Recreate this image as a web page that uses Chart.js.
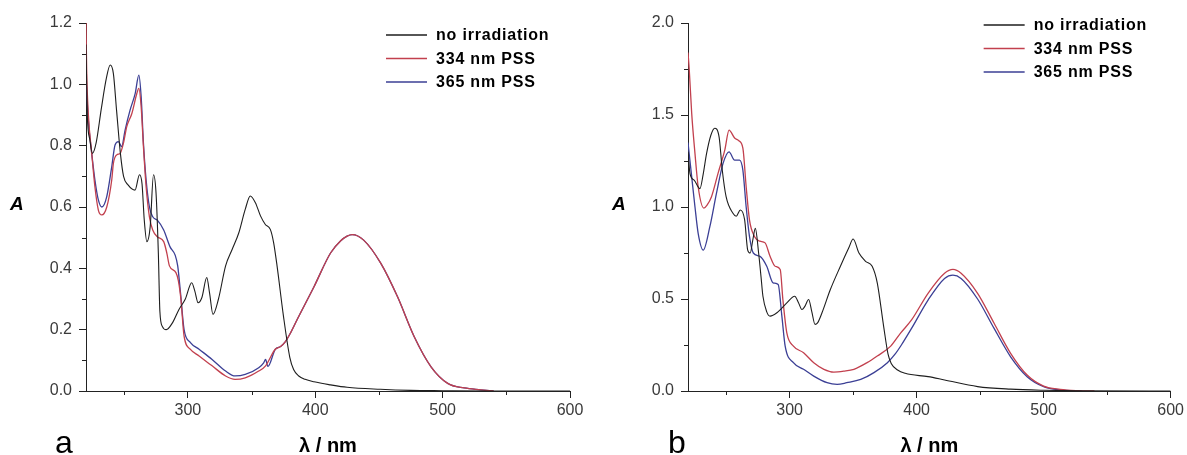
<!DOCTYPE html>
<html>
<head>
<meta charset="utf-8">
<script src="https://cdn.jsdelivr.net/npm/chart.js@4.4.1/dist/chart.umd.min.js"></script>
<style>
  html, body { margin: 0; padding: 0; background: #fff; }
  body { width: 1187px; height: 455px; position: relative; overflow: hidden; }
  canvas { position: absolute; top: 0; }
  #chartA { left: 0; }
  #chartB { left: 594px; }
</style>
</head>
<body>
<canvas id="chartA" width="594" height="455"></canvas>
<canvas id="chartB" width="593" height="455"></canvas>
<script>
// UV-vis spectra, values: [wavelength nm, absorbance]
const xTicks = [300, 400, 500, 600];
const xMinor = [250, 350, 450, 550];
const aYTicks = [0, 0.2, 0.4, 0.6, 0.8, 1.0, 1.2];
const aYMinor = [0.1, 0.3, 0.5, 0.7, 0.9, 1.1];
const bYTicks = [0, 0.5, 1.0, 1.5, 2.0];
const bYMinor = [0.25, 0.75, 1.25, 1.75];
const seriesNames = ['no irradiation', '334 nm PSS', '365 nm PSS'];

// panel a
const aNoIrr = [[220,1.13],[221,0.90],[223,0.82],[225,0.775],[228,0.81],[232,0.92],[236,1.02],[239,1.063],[241.5,1.035],[244,0.915],[247,0.775],[249.5,0.70],[253,0.672],[258.5,0.655],[262,0.705],[264,0.675],[265.7,0.56],[267.8,0.487],[270.4,0.536],[273,0.705],[275,0.645],[276.8,0.45],[278,0.26],[280,0.21],[283,0.20],[288,0.223],[293,0.266],[298,0.30],[303,0.353],[305.5,0.325],[308,0.288],[311,0.305],[314.8,0.37],[317,0.32],[319.7,0.25],[324,0.30],[329.6,0.408],[334.8,0.462],[340,0.516],[345,0.592],[349,0.636],[353,0.614],[357,0.571],[360.8,0.543],[364.7,0.527],[367.3,0.484],[370,0.408],[375,0.245],[380,0.11],[383,0.07],[387,0.049],[392,0.038],[399,0.030],[412,0.02],[425,0.012],[451,0.0055],[475,0.002],[500,0.001],[540,0],[600,0]];
const a334 = [[220,1.20],[220.5,1.05],[221.8,0.905],[224.5,0.775],[227,0.666],[229.7,0.59],[232.4,0.574],[236.3,0.60],[240.2,0.688],[241.5,0.742],[244.2,0.77],[246.8,0.775],[249.4,0.808],[252,0.862],[256,0.905],[259.9,0.97],[261.5,0.987],[263.3,0.927],[265.1,0.797],[267.2,0.666],[269.8,0.568],[272.4,0.525],[276,0.503],[281,0.487],[283.5,0.449],[285.5,0.408],[290.6,0.386],[292.5,0.36],[294.5,0.30],[297,0.179],[302,0.136],[308.8,0.114],[319,0.082],[329.6,0.049],[337,0.038],[345,0.043],[355.6,0.065],[361,0.082],[368.6,0.136],[372.8,0.145],[376.4,0.16],[380,0.185],[386,0.235],[399,0.34],[412,0.45],[420,0.49],[425,0.505],[429,0.51],[438,0.492],[451.5,0.416],[464.6,0.307],[477.7,0.177],[490.9,0.079],[504,0.025],[517,0.010],[530,0.004],[540,0]];
const a365 = [[220,1.02],[221.8,0.884],[224.5,0.775],[227,0.688],[229.7,0.623],[232.4,0.60],[236.3,0.634],[240.2,0.731],[242.8,0.802],[245.4,0.813],[248,0.797],[250.7,0.851],[254.6,0.916],[258.6,0.97],[261.5,1.03],[263.3,0.96],[265.1,0.808],[267.2,0.688],[269.8,0.60],[272.4,0.568],[276,0.557],[281,0.525],[286,0.47],[290,0.443],[292,0.408],[294.2,0.32],[297,0.20],[302,0.158],[308.8,0.136],[319,0.103],[329.6,0.065],[337,0.049],[345,0.054],[355.6,0.076],[359.5,0.092],[361,0.103],[362.8,0.08],[368.6,0.136],[372.8,0.145],[376.4,0.16],[380,0.185],[386,0.235],[399,0.34],[412,0.45],[420,0.49],[425,0.505],[429,0.51],[438,0.492],[451.5,0.416],[464.6,0.307],[477.7,0.177],[490.9,0.079],[504,0.025],[517,0.010],[530,0.004],[540,0]];

// panel b
const bNoIrr = [[220,1.30],[221.6,1.18],[225,1.145],[229.4,1.10],[232,1.18],[234.6,1.29],[238,1.39],[241,1.428],[244.5,1.38],[247,1.20],[250,1.056],[255.4,0.966],[258,0.95],[261.2,0.984],[264.6,0.93],[267,0.766],[269,0.75],[271,0.82],[273,0.884],[275.6,0.75],[277.5,0.62],[279,0.515],[282,0.43],[284.6,0.407],[290,0.425],[297.8,0.479],[304,0.515],[307,0.48],[309.7,0.443],[312,0.46],[315,0.497],[317.5,0.43],[320,0.362],[322,0.37],[325.5,0.425],[332,0.55],[340,0.678],[346.6,0.778],[350,0.826],[354.6,0.75],[359.8,0.705],[365,0.678],[369,0.588],[374,0.353],[377.5,0.2],[380,0.15],[385,0.114],[391,0.096],[409,0.078],[422,0.06],[448,0.024],[474,0.01],[500,0.004],[530,0.001],[600,0]];
const b334 = [[220,1.84],[221,1.745],[222.9,1.51],[225.5,1.29],[228,1.11],[232.5,0.994],[235,1.01],[238.5,1.056],[243.7,1.184],[249,1.31],[252.3,1.418],[256.7,1.375],[260,1.36],[263.2,1.32],[265.8,1.11],[268.4,0.93],[272.3,0.84],[276.7,0.814],[280.7,0.805],[284.6,0.732],[288.6,0.678],[292.6,0.66],[294.7,0.497],[297.8,0.316],[303,0.244],[311,0.208],[319,0.154],[327,0.118],[334.8,0.103],[342.7,0.108],[350.6,0.118],[361,0.154],[369,0.19],[379.6,0.244],[387.5,0.316],[396,0.386],[409,0.531],[422,0.64],[428.6,0.661],[435,0.64],[448,0.531],[461,0.368],[474,0.205],[487,0.087],[500,0.027],[513,0.009],[526,0.002],[540,0]];
const b365 = [[220,1.35],[222.9,1.165],[225.5,1.0],[228,0.857],[232,0.766],[237.2,0.893],[242.4,1.074],[247.6,1.237],[252.3,1.30],[256.7,1.255],[260.6,1.255],[263.2,1.20],[265.8,1.0],[268.4,0.84],[271.4,0.75],[276.7,0.732],[282,0.678],[287,0.588],[291,0.579],[293.9,0.407],[296.5,0.244],[303,0.154],[311,0.118],[319,0.081],[329.5,0.045],[337.4,0.036],[345,0.045],[356,0.063],[366.4,0.1],[377,0.154],[383,0.20],[388,0.25],[396,0.34],[409,0.494],[422,0.612],[428.6,0.63],[435,0.612],[448,0.50],[461,0.34],[474,0.186],[487,0.078],[500,0.024],[513,0.006],[530,0]];

const lineColors = ['#1e1e1e', '#c2404e', '#3b3f95'];
const axisColor = '#222';
const labelColor = '#3a3a3a';
const fontFam = '"Liberation Sans", Arial, sans-serif';

// minor ticks, legend, "A" and panel letter
const decor = {
    id: 'decor',
    afterDraw(chart, args, o) {
        const ctx = chart.ctx;
        const area = chart.chartArea;
        const xs = chart.scales.x, ys = chart.scales.y;
        ctx.save();

        ctx.strokeStyle = axisColor;
        ctx.lineWidth = 1;
        ctx.beginPath();
        xMinor.forEach(v => {
            const px = Math.round(xs.getPixelForValue(v)) + 0.5;
            ctx.moveTo(px, area.bottom);
            ctx.lineTo(px, area.bottom + 4);
        });
        o.yMinor.forEach(v => {
            const py = Math.round(ys.getPixelForValue(v)) + 0.5;
            ctx.moveTo(area.left, py);
            ctx.lineTo(area.left - 4, py);
        });
        ctx.stroke();

        // legend
        const lx = area.right - o.legendDx;
        ctx.font = 'bold 16px ' + fontFam;
        ctx.letterSpacing = '0.8px';
        ctx.textBaseline = 'middle';
        ctx.textAlign = 'left';
        chart.data.datasets.forEach((ds, i) => {
            const ly = o.legendY + i * 23.5;
            ctx.strokeStyle = ds.borderColor;
            ctx.lineWidth = 1.3;
            ctx.beginPath();
            ctx.moveTo(lx, ly);
            ctx.lineTo(lx + 41, ly);
            ctx.stroke();
            ctx.fillStyle = '#000';
            ctx.fillText(ds.label, lx + 50, ly + 1);
        });
        ctx.letterSpacing = '0px';

        // y title
        ctx.textBaseline = 'alphabetic';
        ctx.font = 'italic bold 19px ' + fontFam;
        ctx.fillText('A', area.left - 76, 210);

        // panel letter
        ctx.font = '32px ' + fontFam;
        ctx.fillText(o.letter, o.letterX, 453);
        ctx.restore();
    }
};

function toXY(pairs) {
    return pairs.map(p => ({x: p[0], y: p[1]}));
}

function makeChart(id, series, yTicks, yMax, opts) {
    const ctx = document.getElementById(id).getContext('2d');
    return new Chart(ctx, {
        type: 'line',
        data: {
            datasets: series.map((s, i) => ({
                label: seriesNames[i],
                data: toXY(s),
                borderColor: lineColors[i],
                borderWidth: i === 0 ? 1.1 : 1.3
            }))
        },
        options: {
            responsive: false,
            animation: false,
            devicePixelRatio: 1,
            layout: {padding: {left: 0, top: 23, right: opts.padRight, bottom: 0}},
            elements: {
                point: {radius: 0},
                line: {cubicInterpolationMode: 'monotone', fill: false}
            },
            plugins: {
                legend: {display: false},
                tooltip: {enabled: false},
                decor: opts
            },
            scales: {
                x: {
                    type: 'linear',
                    min: 220,
                    max: 600,
                    afterFit: s => { s.height = 64; },
                    afterBuildTicks: s => { s.ticks = xTicks.map(v => ({value: v})); },
                    grid: {drawOnChartArea: false, drawTicks: true, tickLength: 7, color: axisColor, tickColor: axisColor},
                    border: {display: true, color: axisColor, width: 1},
                    ticks: {color: labelColor, padding: 3, font: {family: fontFam, size: 16}, maxRotation: 0},
                    title: {
                        display: true,
                        text: 'λ / nm',
                        color: '#000',
                        font: {family: fontFam, size: 20, weight: 'bold'},
                        padding: {top: 0, bottom: -3}
                    }
                },
                y: {
                    min: 0,
                    max: yMax,
                    afterFit: s => { s.width = opts.yWidth; },
                    afterBuildTicks: s => { s.ticks = yTicks.map(v => ({value: v})); },
                    grid: {drawOnChartArea: false, drawTicks: true, tickLength: 7, color: axisColor, tickColor: axisColor},
                    border: {display: true, color: axisColor, width: 1},
                    ticks: {color: labelColor, padding: 7, font: {family: fontFam, size: 16}, callback: v => v.toFixed(1)}
                }
            }
        },
        plugins: [decor]
    });
}

makeChart('chartA', [aNoIrr, a334, a365], aYTicks, 1.2,
    {yWidth: 86, padRight: 24, yMinor: aYMinor, legendY: 35, legendDx: 184, letter: 'a', letterX: 55});
makeChart('chartB', [bNoIrr, b334, b365], bYTicks, 2.0,
    {yWidth: 94, padRight: 14, yMinor: bYMinor, legendY: 25, legendDx: 187, letter: 'b', letterX: 74});
</script>
</body>
</html>
